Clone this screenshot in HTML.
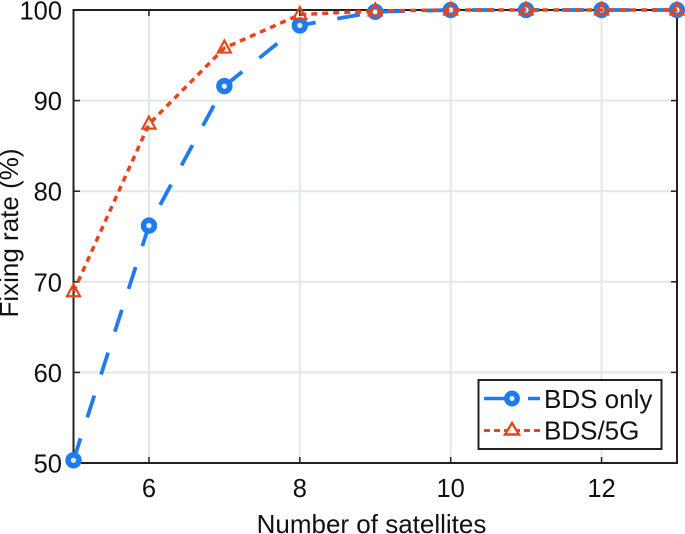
<!DOCTYPE html>
<html>
<head>
<meta charset="utf-8">
<style>
html,body{margin:0;padding:0;background:#fff;width:685px;height:534px;overflow:hidden}
svg{display:block}
text{font-family:"Liberation Sans",Arial,sans-serif;fill:#111}
</style>
</head>
<body>
<svg id="chart" width="685" height="534" viewBox="0 0 685 534" xmlns="http://www.w3.org/2000/svg">
  <g id="grid"></g>
  <rect x="73.5" y="10" width="603.5" height="453" fill="none" stroke="#222" stroke-width="2"/>
  <g id="ticks"></g>
  <text x="371.5" y="533" font-size="26" text-anchor="middle">Number of satellites</text>
  <text transform="translate(18,233) rotate(-90)" font-size="26" text-anchor="middle">Fixing rate (%)</text>
  <g id="series"></g>
  <g>
    <rect x="478.5" y="380" width="183" height="69" fill="#fff" stroke="#222" stroke-width="2"/>
    <line x1="484" y1="398.5" x2="540" y2="398.5" stroke="#1f7cf0" stroke-width="3.5" stroke-dasharray="30 14 12 0"/>
    <circle cx="512" cy="398.5" r="5.2" fill="#fff" stroke="#1f7cf0" stroke-width="5.5"/>
    <text x="544" y="408" font-size="26">BDS only</text>
    <line x1="484" y1="430.5" x2="540" y2="430.5" stroke="#e8451c" stroke-width="3" stroke-dasharray="6 4"/>
    <path d="M512 423 L519 434.5 L505 434.5 Z" fill="#fff" stroke="#e8451c" stroke-width="2.4"/>
    <text x="544" y="439.5" font-size="26">BDS/5G</text>
  </g>
</svg>
<script>
var satellites = [5, 6, 7, 8, 9, 10, 11, 12, 13];
var bdsOnly = [50.3, 76.2, 91.6, 98.3, 99.8, 100, 100, 100, 100];
var bds5g = [68.9, 87.4, 95.8, 99.5, 99.9, 100, 100, 100, 100];
var xTickLabels = [6, 8, 10, 12];
var yTickLabels = [50, 60, 70, 80, 90, 100];

var SVGNS = 'http://www.w3.org/2000/svg';
function xScale(v) { return 73.5 + (v - 5) * (603.5 / 8); }
function yScale(v) { return 463 - (v - 50) * (453 / 50); }
function make(tag, attrs, parent) {
  var el = document.createElementNS(SVGNS, tag);
  for (var k in attrs) el.setAttribute(k, attrs[k]);
  parent.appendChild(el);
  return el;
}
var grid = document.getElementById('grid');
var ticks = document.getElementById('ticks');
var series = document.getElementById('series');

xTickLabels.forEach(function (v) {
  var x = xScale(v);
  var g = make('line', { x1: x, x2: x, y1: 11, y2: 462, stroke: '#e1e9e7', 'stroke-width': 2 }, grid);
  
  
  var t = make('line', { x1: x, x2: x, y1: 463, y2: 457, stroke: '#222', 'stroke-width': 1.5 }, ticks);
  
  
  var t2 = make('line', { x1: x, x2: x, y1: 10, y2: 16, stroke: '#222', 'stroke-width': 1.5 }, ticks);
  
  
  var l = make('text', { x: x, y: 497, 'font-size': 25.5, 'text-anchor': 'middle' }, ticks);
  
  
  l.textContent = v;
});
yTickLabels.forEach(function (v) {
  var y = yScale(v);
  if (v !== 50 && v !== 100) {
    var g = make('line', { x1: 74, x2: 677, y1: y, y2: y, stroke: '#e1e9e7', 'stroke-width': 2 }, grid);
    
    
    var t = make('line', { x1: 73.5, x2: 80, y1: y, y2: y, stroke: '#222', 'stroke-width': 1.5 }, ticks);
    
    
    var t2 = make('line', { x1: 677, x2: 671, y1: y, y2: y, stroke: '#222', 'stroke-width': 1.5 }, ticks);
    
    
  }
  var l = make('text', { x: 62, y: y + 9.5, 'font-size': 25.5, 'text-anchor': 'end' }, ticks);
  
  
  l.textContent = v;
});

function toPoints(values) {
  return values.map(function (v, i) { return xScale(satellites[i]) + ',' + yScale(v); }).join(' ');
}
var blueLine = make('polyline', { points: toPoints(bdsOnly), fill: 'none', stroke: '#1f7cf0', 'stroke-width': 3.8, 'stroke-dasharray': '23 22' }, series);


bdsOnly.forEach(function (v, i) {
  var c = make('circle', { cx: xScale(satellites[i]), cy: yScale(v), r: 5.4, fill: '#fff', 'fill-opacity': 0.85, stroke: '#1f7cf0', 'stroke-width': 5.6 }, series);
  
  
});
var redLine = make('polyline', { points: toPoints(bds5g), fill: 'none', stroke: '#e8451c', 'stroke-width': 3.5, 'stroke-dasharray': '6 5' }, series);


bds5g.forEach(function (v, i) {
  var x = xScale(satellites[i]), y = yScale(v);
  var p = make('path', { d: 'M' + x + ' ' + (y - 7.5) + ' L' + (x + 6.5) + ' ' + (y + 4.5) + ' L' + (x - 6.5) + ' ' + (y + 4.5) + ' Z', fill: 'none', stroke: '#e8451c', 'stroke-width': 2.2 }, series);
  
  
});
</script>
</body>
</html>
